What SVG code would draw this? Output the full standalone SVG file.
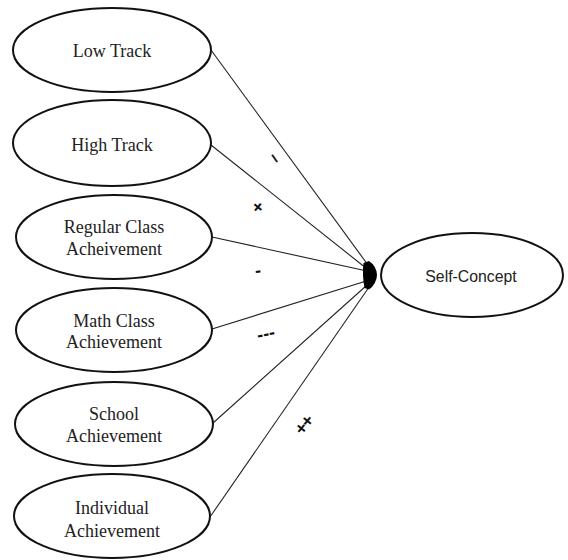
<svg xmlns="http://www.w3.org/2000/svg" width="568" height="560" viewBox="0 0 568 560">
  <style>
    .node ellipse { fill: #ffffff; stroke: #111111; stroke-width: 2; }
    .node text { font-family: "Liberation Serif", "Times New Roman", serif; font-size: 18px; fill: #222222; text-anchor: middle; }
    #self-concept text { font-family: "Liberation Sans", Arial, sans-serif; font-size: 15.8px; }
    .edge { stroke: #222222; stroke-width: 1.1; fill: none; }
    .head { fill: #000000; stroke: none; }
    .sign { font-family: "Liberation Sans", Arial, sans-serif; font-size: 18px; font-weight: bold; fill: #111111; text-anchor: middle; }
  </style>

  <rect width="568" height="560" fill="#ffffff"/>

  <!-- paths from each predictor into Self-Concept -->
  <g id="connectors">
    <line class="edge" x1="211" y1="50" x2="376" y2="276"/>
    <line class="edge" x1="211" y1="145" x2="376" y2="276"/>
    <line class="edge" x1="212" y1="237" x2="376" y2="273"/>
    <line class="edge" x1="212" y1="329" x2="376" y2="278"/>
    <line class="edge" x1="213" y1="423" x2="376" y2="277"/>
    <line class="edge" x1="210" y1="517" x2="376" y2="277"/>
    <!-- merged arrowheads where the paths meet -->
    <path class="head" d="M363.5,263 L369,261 Q376.5,266 377,275 Q376.5,284 369,289.5 L364.5,288 Q362,275 363.5,263 Z"/>
  </g>

  <!-- effect signs beside the paths -->
  <g id="signs">
    <text class="sign" transform="translate(275,158) rotate(55)" y="5.5">–</text>
    <text class="sign" transform="translate(258,207) rotate(40)" y="6">+</text>
    <text class="sign" transform="translate(258,271) rotate(-8)" y="5.5">-</text>
    <text class="sign" transform="translate(266,334) rotate(-12)" y="5.5">---</text>
    <text class="sign" transform="translate(304,425) rotate(-50)" y="6" letter-spacing="-1">++</text>
  </g>

  <g id="low-track" class="node">
    <ellipse cx="112" cy="50" rx="99" ry="42"/>
    <text x="112" y="57">Low Track</text>
  </g>

  <g id="high-track" class="node">
    <ellipse cx="112" cy="143" rx="99" ry="43"/>
    <text x="112" y="151">High Track</text>
  </g>

  <g id="regular-class" class="node">
    <ellipse cx="114" cy="237" rx="98" ry="42"/>
    <text x="114" y="233">Regular Class</text>
    <text x="114" y="255">Acheivement</text>
  </g>

  <g id="math-class" class="node">
    <ellipse cx="114" cy="330" rx="98" ry="42"/>
    <text x="114" y="327">Math Class</text>
    <text x="114" y="348">Achievement</text>
  </g>

  <g id="school" class="node">
    <ellipse cx="114" cy="424" rx="99" ry="42"/>
    <text x="114" y="420">School</text>
    <text x="114" y="442">Achievement</text>
  </g>

  <g id="individual" class="node">
    <ellipse cx="112" cy="516" rx="98" ry="42"/>
    <text x="112" y="514">Individual</text>
    <text x="112" y="537">Achievement</text>
  </g>

  <g id="self-concept" class="node">
    <ellipse cx="472" cy="275" rx="91" ry="42"/>
    <text x="471" y="281.5">Self-Concept</text>
  </g>
</svg>
